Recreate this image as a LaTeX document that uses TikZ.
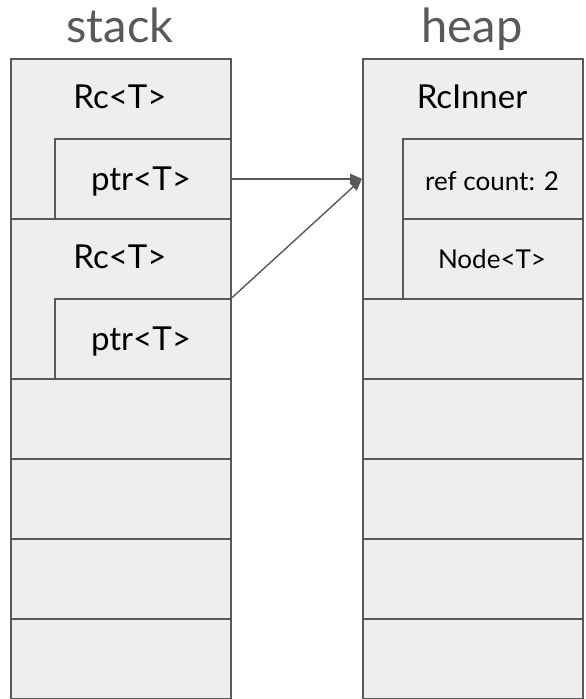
\documentclass[tikz,border=0pt]{standalone}
\usepackage{fontspec}
\setmainfont{Lato}
\usetikzlibrary{arrows.meta}
\definecolor{cellfill}{HTML}{EEEEEE}
\definecolor{edge}{HTML}{595959}
\begin{document}
\begin{tikzpicture}[x=1pt,y=-1pt,
  cell/.style={draw=edge, fill=cellfill, line width=1.6pt, inner sep=0pt, anchor=north west},
  title/.style={text=edge, anchor=base, inner sep=0pt, font=\fontsize{47}{52}\selectfont},
  lbl/.style={anchor=base, inner sep=0pt, font=\fontsize{33}{38}\selectfont},
  small/.style={anchor=base, inner sep=0pt, font=\fontsize{26}{30}\selectfont},
  link/.style={draw=edge, line width=1.4pt, -{Triangle[length=12pt,width=10pt]}}]
\useasboundingbox (0,0) rectangle (586,699);
% column titles
\node[title] (tstack) at (120,42) {stack};
\node[title] (theap) at (472,42) {heap};
% stack: two Rc<T> blocks, each holding a ptr<T>
\node[cell, minimum width=220, minimum height=160] (rc1) at (10,58) {};
\node[lbl] (rc1l) at (120,108) {Rc<T>};
\node[cell, minimum width=176, minimum height=80] (p1) at (54,138) {};
\node[lbl] (p1l) at (141,190) {ptr<T>};
\node[cell, minimum width=220, minimum height=160] (rc2) at (10,218) {};
\node[lbl] (rc2l) at (120,268) {Rc<T>};
\node[cell, minimum width=176, minimum height=80] (p2) at (54,298) {};
\node[lbl] (p2l) at (141,350) {ptr<T>};
% empty stack slots
\foreach \y/\n in {378/s1,458/s2,538/s3,618/s4}
  \node[cell, minimum width=220, minimum height=80] (\n) at (10,\y) {};
% heap: RcInner holding the ref count and the Node<T>
\node[cell, minimum width=220, minimum height=240] (inner) at (362,58) {};
\node[lbl] (innerl) at (472,108) {RcInner};
\node[cell, minimum width=180, minimum height=80] (cnt) at (402,138) {};
\node[small] (cntl) at (492,190) {ref count: 2};
\node[cell, minimum width=180, minimum height=80] (nd) at (402,218) {};
\node[small] (ndl) at (492,268) {Node<T>};
% empty heap slots
\foreach \y/\n in {298/h1,378/h2,458/h3,538/h4,618/h5}
  \node[cell, minimum width=220, minimum height=80] (\n) at (362,\y) {};
% both pointers refer to the same RcInner
\draw[link] (p1.east) -- (inner.west);
\draw[link] (p2.north east) -- (inner.west);
\end{tikzpicture}
\end{document}
